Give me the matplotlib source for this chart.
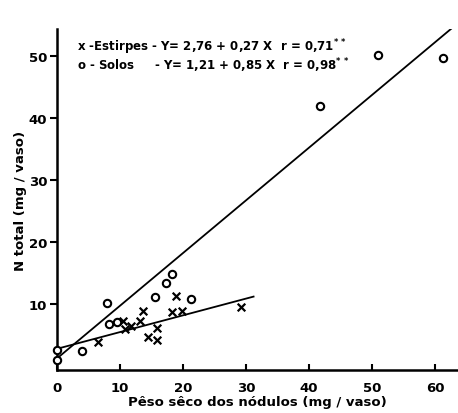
import matplotlib.pyplot as plt
import numpy as np

# Estirpes (x)
estirpes_x = [6.5, 10.5, 10.8, 11.8, 13.2, 13.7, 14.5, 15.8, 15.8, 18.2, 18.9, 19.9, 29.2]
estirpes_y = [3.9, 7.3, 5.9, 6.5, 7.3, 8.8, 4.6, 6.1, 4.2, 8.7, 11.2, 8.8, 9.5]

# Solos (o)
solos_x = [0, 0, 3.9, 8.0, 8.3, 9.5, 15.6, 17.3, 18.2, 21.2, 41.7, 50.9, 61.3]
solos_y = [1.0, 2.5, 2.4, 10.2, 6.7, 7.1, 11.1, 13.4, 14.8, 10.8, 41.9, 50.2, 49.7]

# regressoes
a_est, b_est, x_est_max = 2.76, 0.27, 31.2
a_sol, b_sol, x_sol_max = 1.21, 0.85, 64.0

xticks = [0, 10, 20, 30, 40, 50, 60]
yticks = [10, 20, 30, 40, 50]

plt.rcParams['font.family'] = 'DejaVu Sans'
plt.rcParams['font.weight'] = 'bold'

fig = plt.figure(figsize=(4.58, 4.14), dpi=100)
ax = fig.add_axes([0.1245, 0.104, 0.8755, 0.8235])

# linhas de regressao
xe = np.array([0, x_est_max])
ax.plot(xe, a_est + b_est * xe, color='black', lw=1.3)
xs = np.array([0, x_sol_max])
ax.plot(xs, a_sol + b_sol * xs, color='black', lw=1.3)

# pontos
ax.scatter(estirpes_x, estirpes_y, marker='x', s=30, color='black', linewidths=1.6, zorder=3)
ax.scatter(solos_x, solos_y, marker='o', s=28, facecolors='white', edgecolors='black',
           linewidths=1.5, zorder=3, clip_on=False)

ax.set_xlim(0, 63.65)
ax.set_ylim(-0.65, 54.35)

for s in ['top', 'right']:
    ax.spines[s].set_visible(False)
ax.spines['left'].set_linewidth(1.8)
ax.spines['bottom'].set_linewidth(1.8)

ax.set_xticks(xticks)
ax.set_yticks(yticks)
ax.tick_params(axis='x', direction='in', length=4, width=1.5, labelsize=9.5, pad=8)
ax.tick_params(axis='y', direction='out', length=5, width=1.5, labelsize=9.5, pad=2)
for lab in ax.get_xticklabels() + ax.get_yticklabels():
    lab.set_fontweight('bold')

ax.set_xlabel('Pêso sêco dos nódulos (mg / vaso)', fontsize=9.5, fontweight='bold', labelpad=1)
ax.set_ylabel('N total (mg / vaso)', fontsize=9.5, fontweight='bold', labelpad=1)

# legenda com equacoes
ax.text(0.05, 0.95, 'x -Estirpes - Y= 2,76 + 0,27 X  r = 0,71$^{*\\,*}$', transform=ax.transAxes,
        fontsize=8.5, fontweight='bold', va='center', ha='left')
ax.text(0.05, 0.895, 'o - Solos     - Y= 1,21 + 0,85 X  r = 0,98$^{*\\,*}$', transform=ax.transAxes,
        fontsize=8.5, fontweight='bold', va='center', ha='left')

fig.savefig('out.png', dpi=100)
